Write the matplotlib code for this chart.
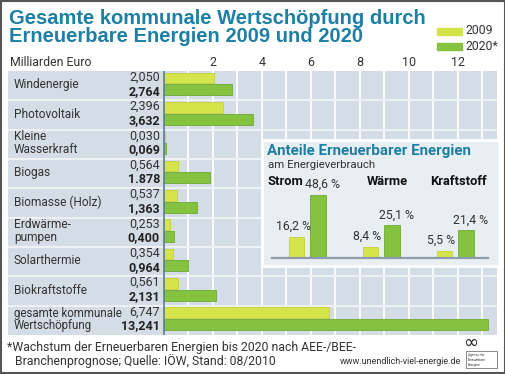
import matplotlib.pyplot as plt
from matplotlib.patches import Rectangle
import numpy as np

plt.rcParams['font.family'] = ['Roboto', 'DejaVu Sans']

# main chart data (Mrd. Euro)
categories = ["Windenergie", "Photovoltaik", "Kleine\nWasserkraft", "Biogas",
              "Biomasse (Holz)", "Erdwärme-\npumpen", "Solarthermie",
              "Biokraftstoffe", "gesamte kommunale\nWertschöpfung"]
v2009 = [2.050, 2.396, 0.030, 0.564, 0.537, 0.253, 0.354, 0.561, 6.747]
v2020 = [2.764, 3.632, 0.069, 1.878, 1.363, 0.400, 0.964, 2.131, 13.241]
lab2009 = ["2,050", "2,396", "0,030", "0,564", "0,537", "0,253", "0,354", "0,561", "6,747"]
lab2020 = ["2,764", "3,632", "0,069", "1.878", "1,363", "0,400", "0,964", "2,131", "13,241"]
xticks = [2, 4, 6, 8, 10, 12]

# inset data (% am Energieverbrauch)
groups = ["Strom", "Wärme", "Kraftstoff"]
share2009 = [16.2, 8.4, 5.5]
share2020 = [48.6, 25.1, 21.4]

c09 = '#d6e44c'
c20 = '#84c23f'
teal = '#1c7fa3'
txt = '#333333'
panel = '#d4dde6'

W, H = 506, 374
def fx(x): return x / W
def fy(y): return 1 - y / H

fig = plt.figure(figsize=(W / 100, H / 100), dpi=100)
fig.patch.set_facecolor('white')

# title
for yy, line in [(18, "Gesamte kommunale Wertschöpfung durch"),
                 (37, "Erneuerbare Energien 2009 und 2020")]:
    fig.text(fx(9), fy(yy), line, color=teal, fontsize=14.5, fontweight='bold',
             family='Liberation Sans', va='center')

# legend
for yy, col, lab in [(31, c09, "2009"), (46, c20, "2020*")]:
    fig.patches.append(Rectangle((fx(437), fy(yy + 3.5)), 25 / W, 7 / H, color=col,
                                 transform=fig.transFigure))
    fig.text(fx(466), fy(yy), lab, fontsize=8.8, color=txt, va='center')

fig.text(fx(10), fy(62), "Milliarden Euro", fontsize=8.8, color=txt, va='center')

# main panel
px_unit = 24.5
zero = 164
ax = fig.add_axes([fx(8), fy(335), (497 - 8) / W, (335 - 71) / H])
ax.set_facecolor(panel)
ax.set_xlim(-(zero - 8) / px_unit, (497 - zero) / px_unit)
ax.set_ylim(len(categories), 0)
for s in ax.spines.values():
    s.set_visible(False)
ax.set_xticks([])
ax.set_yticks([])

for g in range(1, 14):
    ax.axvline(g, color='white', lw=1.3, zorder=1)
for i in range(1, len(categories)):
    ax.axhline(i, color='#eef2f5', lw=1.5, zorder=1)
ax.axvline(0, color='#5d7d97', lw=1.2, zorder=4)

y = np.arange(len(categories))
ax.barh(y + 0.24, v2009, height=0.37, color=c09, edgecolor='#c3d23c', lw=0.6, zorder=3)
ax.barh(y + 0.64, v2020, height=0.37, color=c20, edgecolor='#6faa35', lw=0.6, zorder=3)

vx = -4 / px_unit
lx = -(zero - 14) / px_unit
for i, cat in enumerate(categories):
    ax.text(vx, i + 0.21, lab2009[i], ha='right', va='center', fontsize=9, color=txt)
    ax.text(vx, i + 0.69, lab2020[i], ha='right', va='center', fontsize=9,
            color='#222222', fontweight='bold')
    parts = cat.split('\n')
    if len(parts) == 1:
        ax.text(lx, i + 0.47, cat, ha='left', va='center', fontsize=8.6, color=txt)
    else:
        fs = 8.6 if i < len(categories) - 1 else 8.3
        ax.text(lx, i + 0.25, parts[0], ha='left', va='center', fontsize=fs, color=txt)
        ax.text(lx, i + 0.69, parts[1], ha='left', va='center', fontsize=fs, color=txt)

for t in xticks:
    fig.text(fx(zero + t * px_unit), fy(62), str(t), ha='center', va='center',
             fontsize=9, color=txt)

# inset
ax2 = fig.add_axes([fx(262), fy(266), (499 - 262) / W, (266 - 140) / H])
ax2.set_facecolor('#e9eef2')
for s in ax2.spines.values():
    s.set_color('white')
    s.set_linewidth(2)
ax2.set_xticks([])
ax2.set_yticks([])
gsp = 74
ax2.set_xlim(-(307 - 262) / gsp, (499 - 307) / gsp)
ax2.set_ylim(-8 / 1.3, (266 - 140 - 8) / 1.3)
gx = np.arange(len(groups))
bw = 15.5 / gsp
off = 10.75 / gsp
ax2.bar(gx - off, share2009, width=bw, color=c09, edgecolor='#c3d23c', lw=0.6, zorder=3)
ax2.bar(gx + off, share2020, width=bw, color=c20, edgecolor='#6faa35', lw=0.6, zorder=3)
ax2.plot([-0.47, 2.45], [0, 0], color='#8d9dab', lw=1.6, zorder=4)
for i in range(len(groups)):
    ax2.text(gx[i] - off - 0.04, share2009[i] + 3, f"{share2009[i]:.1f} %".replace('.', ','),
             ha='center', va='bottom', fontsize=8.8, color=txt)
    ax2.text(gx[i] + off + 0.06, share2020[i] + 3, f"{share2020[i]:.1f} %".replace('.', ','),
             ha='center', va='bottom', fontsize=8.8, color=txt)

fig.text(fx(267), fy(151), "Anteile Erneuerbarer Energien", color=teal, fontsize=10.9,
         fontweight='bold', va='center')
fig.text(fx(268), fy(165), "am Energieverbrauch", color=txt, fontsize=8.2, va='center')
fig.text(fx(268), fy(182), groups[0], color='#111111', fontsize=9.3, fontweight='bold',
         va='center', ha='left')
fig.text(fx(387), fy(182), groups[1], color='#111111', fontsize=9.3, fontweight='bold',
         va='center', ha='center')
fig.text(fx(458), fy(182), groups[2], color='#111111', fontsize=9.3, fontweight='bold',
         va='center', ha='center')

# footnote
fig.text(fx(7), fy(347), "*Wachstum der Erneuerbaren Energien bis 2020 nach AEE-/BEE-",
         fontsize=8.8, color=txt, va='center')
fig.text(fx(15), fy(361), "Branchenprognose; Quelle: IÖW, Stand: 08/2010",
         fontsize=8.8, color=txt, va='center')
fig.text(fx(461), fy(361), "www.unendlich-viel-energie.de", fontsize=6.5, color=txt,
         va='center', ha='right')

# logo
fig.text(fx(471), fy(343), "∞", fontsize=13, color='#222222', ha='center', va='center',
         family='DejaVu Sans')
fig.patches.append(Rectangle((fx(466), fy(368)), 31 / W, 17 / H, fill=False,
                             edgecolor='#777777', lw=0.6, transform=fig.transFigure))
fig.text(fx(468), fy(360), "Agentur für\nErneuerbare\nEnergien", fontsize=2.3,
         color='#333333', va='center', ha='left')

# outer frame
fig.patches.append(Rectangle((0.002, 0.003), 0.996, 0.994, fill=False, edgecolor='#555555',
                             lw=1.5, transform=fig.transFigure))

fig.savefig("out.png", dpi=100)
